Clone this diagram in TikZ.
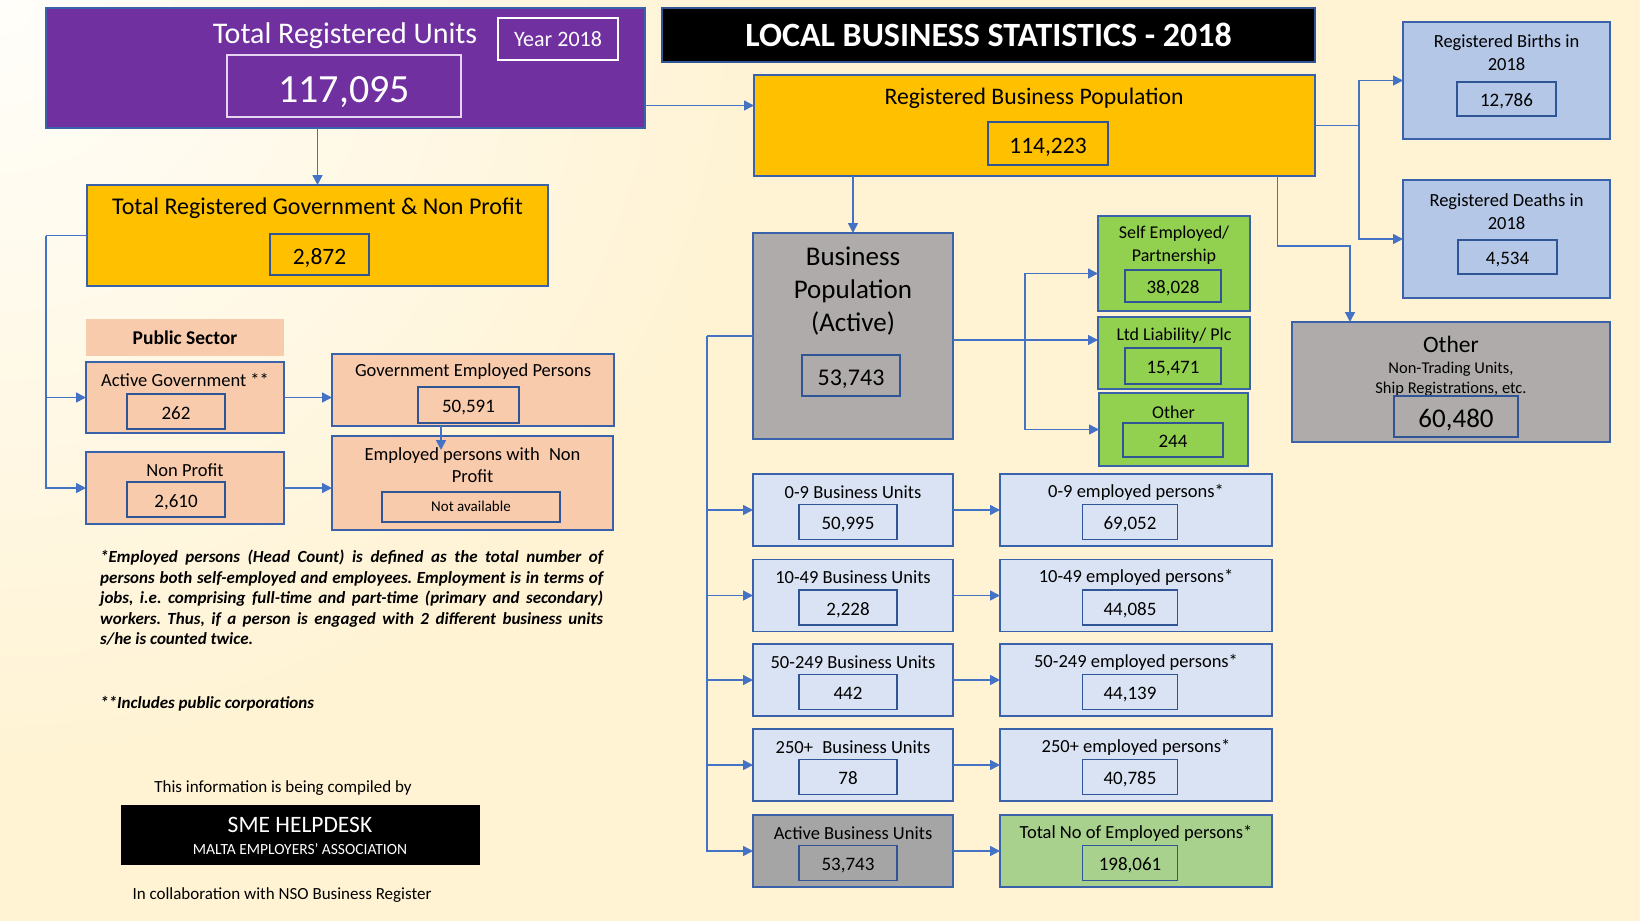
\documentclass[tikz,border=0pt]{standalone}
\usepackage{fontspec}
\setmainfont{Carlito}
\usetikzlibrary{arrows.meta,positioning,calc}
\definecolor{lbsPurple}{HTML}{7030A0}
\definecolor{lbsGold}{HTML}{FFC000}
\definecolor{lbsSalmon}{HTML}{F8CBAD}
\definecolor{lbsSky}{HTML}{B4C7E7}
\definecolor{lbsMist}{HTML}{DAE3F3}
\definecolor{lbsGrey}{HTML}{AFABAB}
\definecolor{lbsGreyB}{HTML}{A5A5A5}
\definecolor{lbsLime}{HTML}{92D050}
\definecolor{lbsSage}{HTML}{A9D18E}
\definecolor{lbsLink}{HTML}{4472C4}
\definecolor{lbsEdge}{HTML}{3A62AA}
\definecolor{lbsInner}{HTML}{2F5597}
\definecolor{lbsPale}{HTML}{E4D6F0}
\definecolor{lbsBgA}{HTML}{FFFEFA}
\definecolor{lbsBgB}{HTML}{FFF3D4}
\newcommand{\fsz}[2]{\fontsize{#1}{#2}\selectfont}
\tikzset{
 lbs box/.style={draw=lbsEdge,line width=1.5pt,inner sep=0pt,outer sep=0pt},
 lbs value/.style={draw=lbsInner,line width=1.5pt,inner sep=0pt,outer sep=0pt,
                   minimum height=35pt,text height=16pt,text depth=1pt,font=\fsz{19}{23}},
 lbs text/.style={inner sep=0pt,font=\fsz{18.5}{22.5},align=center},
 lbs link/.style={draw=lbsLink,line width=1.6pt,-{Triangle[length=10pt,width=10pt]}},
 lbs line/.style={draw=lbsLink,line width=1.6pt}
}

\begin{document}
\begin{tikzpicture}[x=1pt,y=-1pt]
 \useasboundingbox (0,0) rectangle (1640,921);
 \fill[lbsBgB] (0,0) rectangle (1640,921);
 \begin{scope}
  \clip (0,0) rectangle (1640,921);
  \shade[inner color=lbsBgA,outer color=lbsBgB] (0,0) circle (760);
 \end{scope}

 % totals
 \node[lbs box,fill=lbsPurple,minimum width=599pt,minimum height=120pt] (reg) at (345.5,68) {};
 \node[lbs text,text=white,font=\fsz{30}{36}] (reg-t) at (345,35.5) {Total Registered Units};
 \node[lbs value,draw=lbsPale,text=white,minimum width=234pt,minimum height=62pt,
       text height=34pt,font=\fsz{40}{48}] (reg-v) at (344,86) {117,095};
 \node[lbs value,draw=white,text=white,minimum width=120pt,minimum height=42pt,
       text height=18pt,text depth=4pt,font=\fsz{22}{26}] (year) at (558,39) {Year 2018};
 \node[lbs box,draw=lbsInner,fill=black,text=white,minimum width=653pt,minimum height=54pt,
       font=\bfseries\fsz{34}{40}] (title) at (988.5,35) {LOCAL BUSINESS STATISTICS - 2018};

 \node[lbs box,fill=lbsGold,minimum width=561pt,minimum height=101pt] (rbp) at (1034.5,125.5) {};
 \node[lbs text,font=\fsz{23.7}{28}] (rbp-t) at (1034,98) {Registered Business Population};
 \node[lbs value,minimum width=120pt,minimum height=43pt,text height=20pt,
       font=\fsz{23.5}{28}] (rbp-v) at (1048,143.5) {114,223};

 \node[lbs box,fill=lbsSky,minimum width=207pt,minimum height=117pt] (birth) at (1506.5,80.5) {};
 \node[lbs text] (birth-t) at (1506.5,52.5) {Registered Births in\\2018};
 \node[lbs value,minimum width=99pt,minimum height=34pt] (birth-v) at (1506.5,99) {12,786};

 \node[lbs box,fill=lbsSky,minimum width=207pt,minimum height=118pt] (death) at (1506.5,239) {};
 \node[lbs text] (death-t) at (1506.5,211.5) {Registered Deaths in\\2018};
 \node[lbs value,minimum width=99pt,minimum height=34pt] (death-v) at (1507.5,257) {4,534};

 \node[lbs box,fill=lbsGrey,minimum width=318pt,minimum height=120pt] (oth) at (1451,382) {};
 \node[lbs text,font=\fsz{23.5}{28}] (oth-t) at (1451,344) {Other};
 \node[lbs text,font=\fsz{16.5}{20}] (oth-s) at (1451,379) {Non-Trading Units,\\Ship Registrations, etc.};
 \node[lbs value,minimum width=124pt,minimum height=41pt,text height=23pt,
       font=\fsz{27}{32}] (oth-v) at (1456,416.5) {60,480};

 % government and non profit
 \node[lbs box,fill=lbsGold,minimum width=461pt,minimum height=101pt] (gov) at (317.5,235.5) {};
 \node[lbs text,font=\fsz{24}{28}] (gov-t) at (317.5,208) {Total Registered Government \& Non Profit};
 \node[lbs value,minimum width=99pt,minimum height=41pt,text height=20pt,
       font=\fsz{23.5}{28}] (gov-v) at (319.5,254.5) {2,872};

 \node[fill=lbsSalmon,inner sep=0pt,minimum width=198pt,minimum height=37pt,
       font=\bfseries\fsz{19.5}{23}] (pub) at (185,337.5) {Public Sector};

 \node[lbs box,fill=lbsSalmon,minimum width=198pt,minimum height=71pt] (act) at (185,397.5) {};
 \node[lbs text] (act-t) at (185,380) {Active Government **};
 \node[lbs value,minimum width=98pt] (act-v) at (176,411.5) {262};

 \node[lbs box,fill=lbsSalmon,minimum width=198pt,minimum height=72pt] (npf) at (185,488) {};
 \node[lbs text] (npf-t) at (185,470) {Non Profit};
 \node[lbs value,minimum width=98pt] (npf-v) at (176,499.5) {2,610};

 \node[lbs box,fill=lbsSalmon,minimum width=282pt,minimum height=72pt] (gemp) at (473,390) {};
 \node[lbs text] (gemp-t) at (473,371.5) {Government Employed Persons};
 \node[lbs value,minimum width=101pt,minimum height=36pt] (gemp-v) at (468.5,405) {50,591};

 \node[lbs box,fill=lbsSalmon,minimum width=281pt,minimum height=94pt] (enp) at (472.5,483) {};
 \node[lbs text] (enp-t) at (472.5,465) {Employed persons with\enspace Non\\Profit};
 \node[lbs value,minimum width=178pt,minimum height=30pt,text height=12pt,text depth=3pt,
       font=\fsz{15}{18}] (enp-v) at (471,507) {Not available};

 % active population
 \node[lbs box,fill=lbsGrey,minimum width=200pt,minimum height=206pt] (bpa) at (853,336) {};
 \node[lbs text,font=\fsz{27}{33}] (bpa-t) at (853,291) {Business\\Population\\(Active)};
 \node[lbs value,minimum width=98pt,minimum height=41pt,text height=20pt,
       font=\fsz{24}{28}] (bpa-v) at (851,375.5) {53,743};

 \node[lbs box,fill=lbsLime,minimum width=152pt,minimum height=95pt] (selfe) at (1174,263.5) {};
 \node[lbs text,font=\fsz{18}{22.5}] (selfe-t) at (1174,245) {Self Employed/\\Partnership};
 \node[lbs value,minimum width=96pt,minimum height=32pt] (selfe-v) at (1173,286) {38,028};

 \node[lbs box,fill=lbsLime,minimum width=152pt,minimum height=72pt] (ltd) at (1174,353) {};
 \node[lbs text,font=\fsz{18}{22.5}] (ltd-t) at (1174,335.5) {Ltd Liability/ Plc};
 \node[lbs value,minimum width=96pt,minimum height=36pt] (ltd-v) at (1173,366) {15,471};

 \node[lbs box,fill=lbsLime,minimum width=149pt,minimum height=73pt] (ogr) at (1173.5,429.5) {};
 \node[lbs text,font=\fsz{18}{22.5}] (ogr-t) at (1173.5,412.5) {Other};
 \node[lbs value,minimum width=100pt,minimum height=34pt] (ogr-v) at (1173,440) {244};

 % size bands
 \foreach \r/\y/\sl/\sv/\el/\ev/\sf/\ef in {
   1/510/{0-9 Business Units}/{50,995}/{0-9 employed persons*}/{69,052}/lbsMist/lbsMist,
   2/595.5/{10-49 Business Units}/{2,228}/{10-49 employed persons*}/{44,085}/lbsMist/lbsMist,
   3/680/{50-249 Business Units}/{442}/{50-249 employed persons*}/{44,139}/lbsMist/lbsMist,
   4/765/{250+\enspace Business Units}/{78}/{250+ employed persons*}/{40,785}/lbsMist/lbsMist,
   5/851/{Active Business Units}/{53,743}/{Total No of Employed persons*}/{198,061}/lbsGreyB/lbsSage}{
   \node[lbs box,fill=\sf,minimum width=200pt,minimum height=72pt] (s\r) at (853,\y) {};
   \node[lbs text] (s\r-t) at (853,\y-18) {\sl};
   \node[lbs value,minimum width=98pt] (s\r-v) at (848,\y+12) {\sv};
   \node[lbs box,fill=\ef,minimum width=272pt,minimum height=72pt] (e\r) at (1136,\y) {};
   \node[lbs text] (e\r-t) at (1136,\y-18) {\el};
   \node[lbs value,minimum width=95pt] (e\r-v) at (1130,\y+12) {\ev};
 }

 % notes
 \node[anchor=north west,inner sep=0pt,text width=503pt,align=justify,
       font=\bfseries\itshape\fsz{17}{20.4}] (note) at (100,550)
   {\frenchspacing\hyphenpenalty=10000\exhyphenpenalty=10000
    *Employed persons (Head Count) is defined as the total number of\linebreak
    persons both self-employed and employees. Employment is in terms of\linebreak
    jobs, i.e. comprising full-time and part-time (primary and secondary)\linebreak
    workers. Thus, if a person is engaged with 2 different business units\linebreak
    s/he is counted twice.};
 \node[anchor=west,inner sep=0pt,font=\bfseries\itshape\fsz{17}{20}] (note2) at (100,704)
   {**Includes public corporations};

 \node[lbs text,font=\fsz{17}{20}] (comp) at (283,788) {This information is being compiled by};
 \node[fill=black,inner sep=0pt,minimum width=359pt,minimum height=60pt] (sme) at (300.5,835) {};
 \node[lbs text,text=white,font=\fsz{23.5}{28}] (sme-t) at (300,825) {SME HELPDESK};
 \node[lbs text,text=white,font=\fsz{15.5}{18}] (sme-s) at (300,849) {MALTA EMPLOYERS’ ASSOCIATION};
 \node[lbs text,font=\fsz{17}{20}] (nso) at (282,895) {In collaboration with NSO Business Register};

 % connectors
 \draw[lbs link] ([yshift=20pt]rbp.west -| reg.east) -- ([yshift=20pt]rbp.west);
 \draw[lbs link] (gov.north |- reg.south) -- (gov.north);
 \draw[lbs line] (gov.west) -- ++(-41,0) coordinate (gl);
 \draw[lbs link] (gl) |- (npf.west);
 \draw[lbs link] (gl |- act.west) -- (act.west);
 \draw[lbs link] (act.east) -- (act.east -| gemp.west);
 \draw[lbs link] (npf.east) -- (npf.east -| enp.west);
 \draw[lbs link] ([xshift=-32pt]gemp.south) -- ++(0,24);

 \draw[lbs link] (bpa.north |- rbp.south) -- (bpa.north);
 \draw[lbs line] (rbp.east) -- ++(44,0) coordinate (rj);
 \draw[lbs link] (rj) |- (birth.west);
 \draw[lbs link] (rj) |- (death.west);
 \draw[lbs link] ([xshift=243pt]rbp.south) -- ++(0,70) -| ([xshift=-101pt]oth.north);

 \draw[lbs link] ([yshift=-4pt]bpa.east) -- ([yshift=-4pt]bpa.east -| ltd.west);
 \draw[lbs link] ([xshift=-74pt]ogr.west) |- ([yshift=-10pt]selfe.west);
 \draw[lbs link] ([xshift=-74pt]ogr.west) -- (ogr.west);

 \draw[lbs line] (bpa.west) -- ++(-46,0) coordinate (bl);
 \draw[lbs link] (bl) |- (s5.west);
 \foreach \r in {1,...,4}{\draw[lbs link] (bl |- s\r.west) -- (s\r.west);}
 \foreach \r in {1,...,5}{\draw[lbs link] (s\r.east) -- (s\r.east -| e\r.west);}
\end{tikzpicture}
\end{document}
